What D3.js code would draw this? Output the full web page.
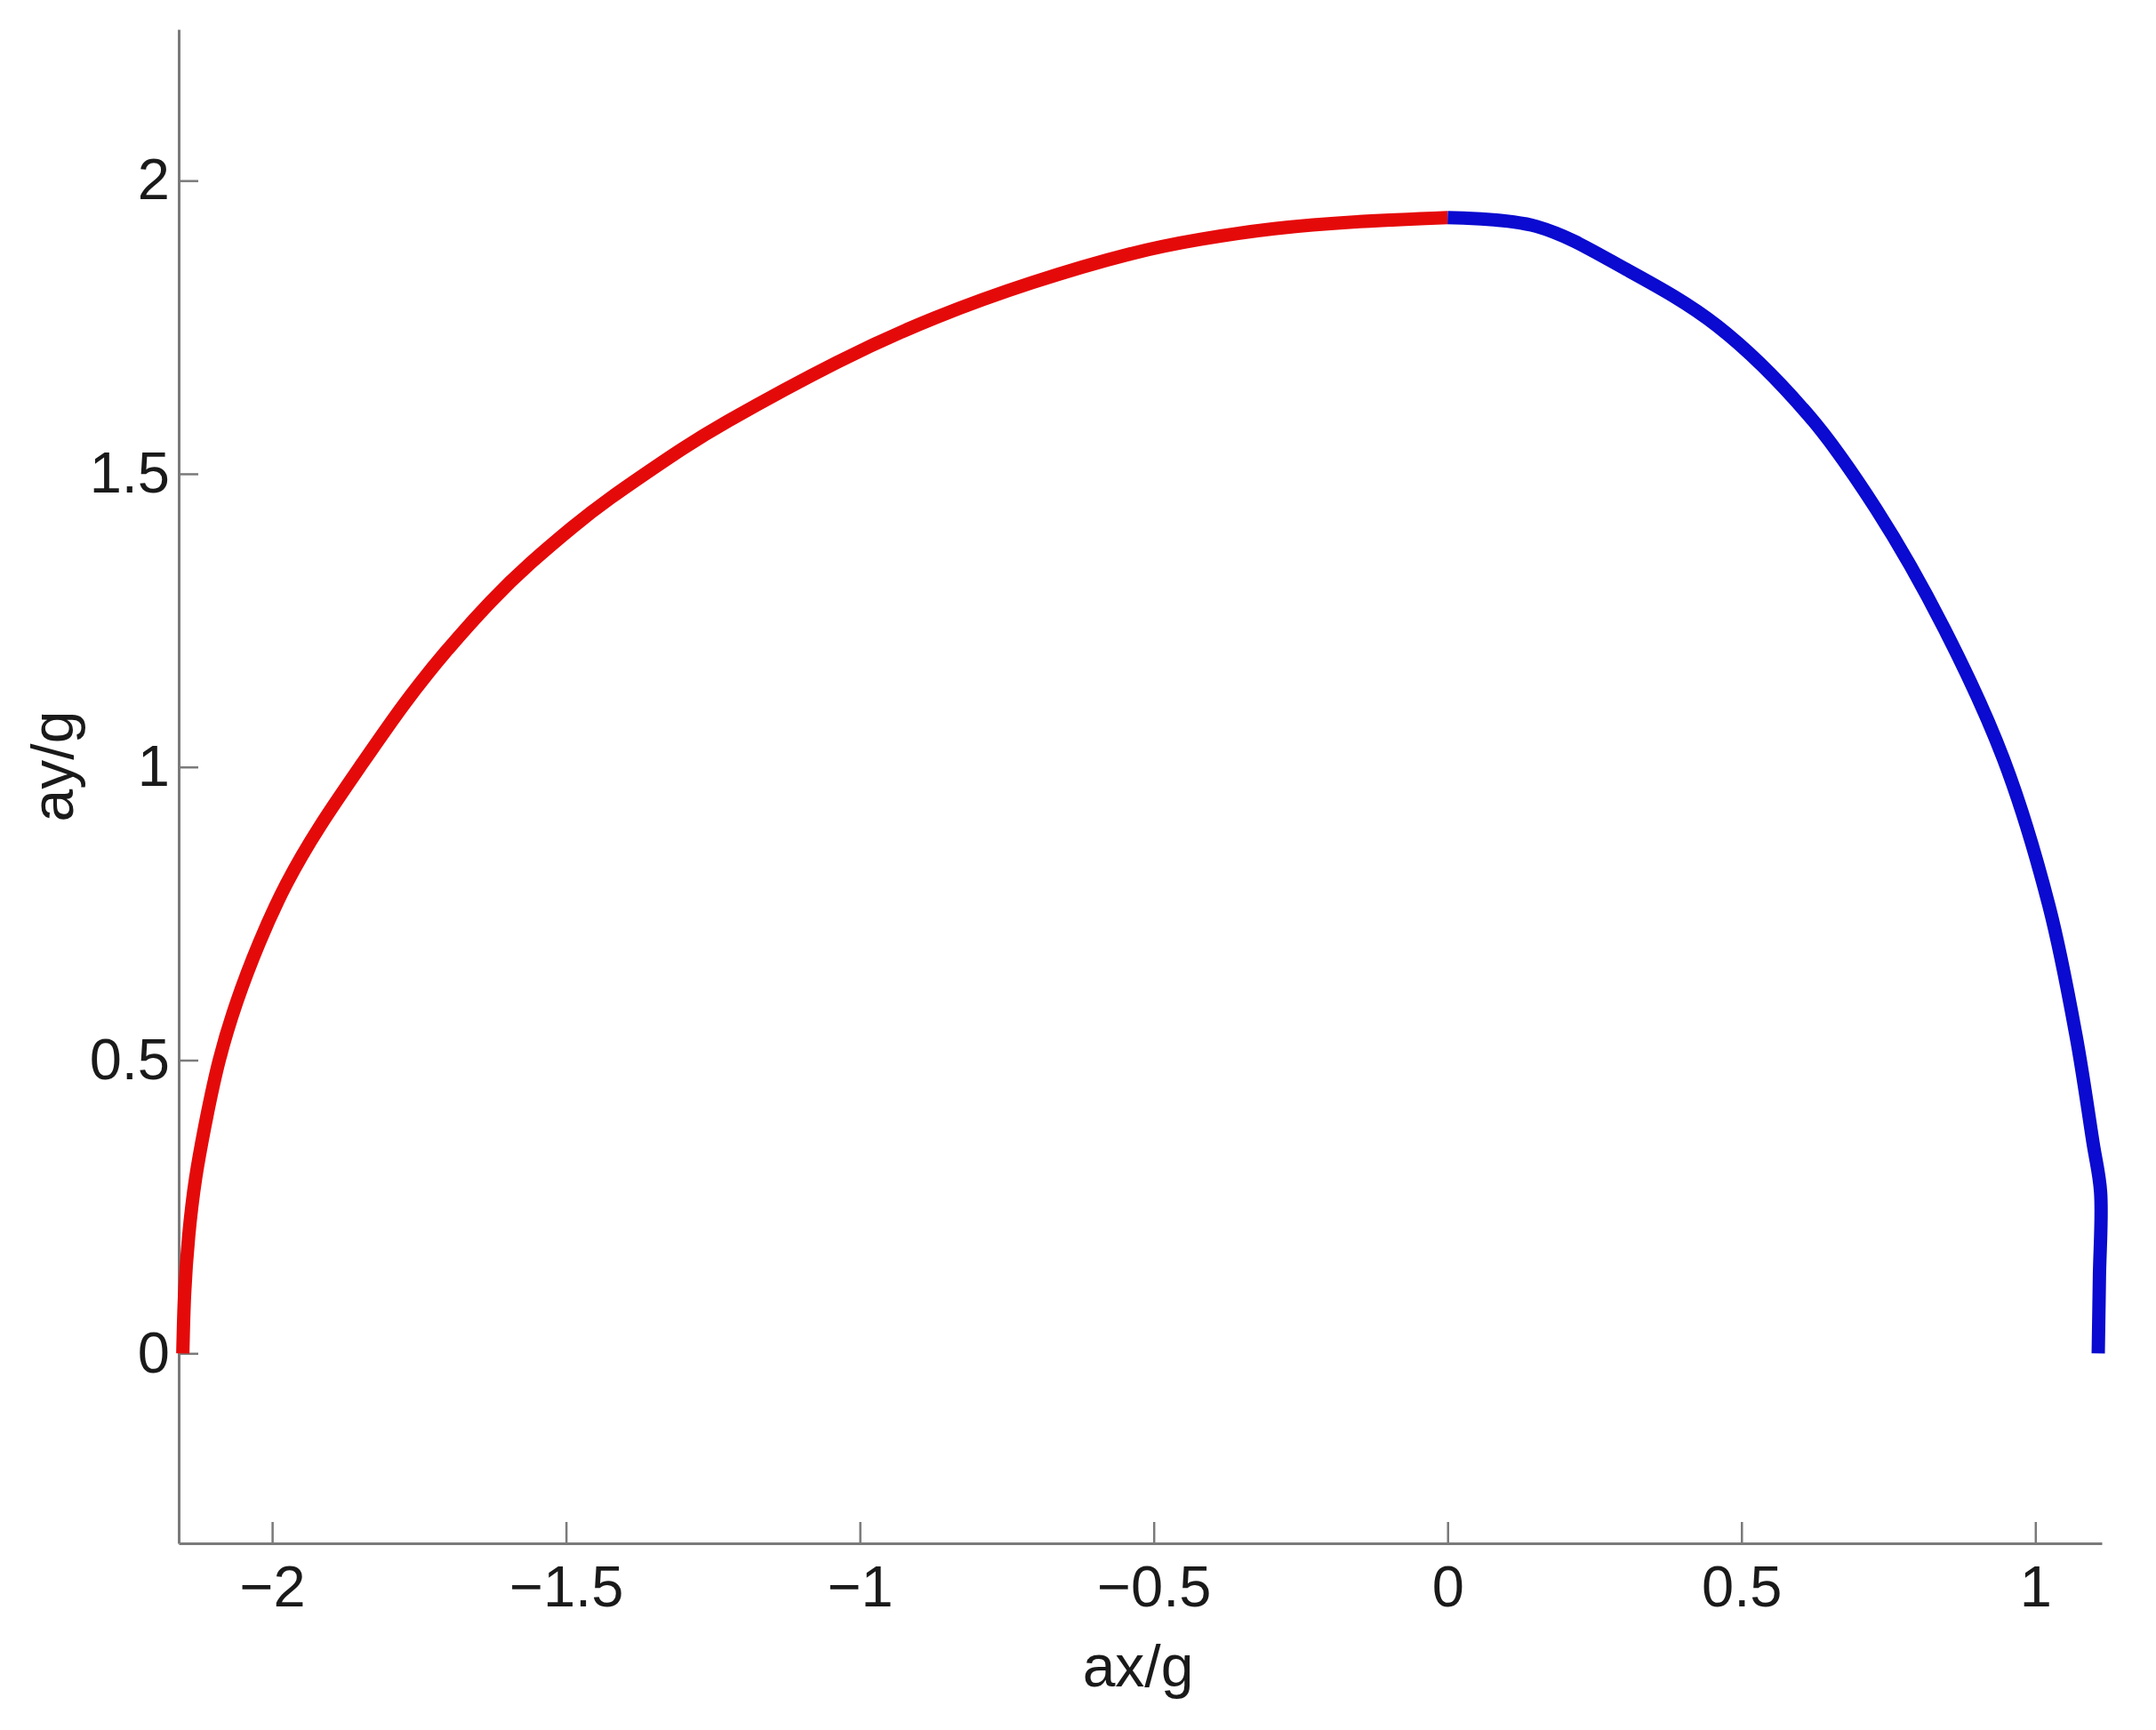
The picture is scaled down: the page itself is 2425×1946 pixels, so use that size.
<!DOCTYPE html>
<html>
<head>
<meta charset="utf-8">
<script src="https://cdn.jsdelivr.net/npm/d3@7"></script>
<style>
  html, body { margin: 0; padding: 0; background: #fff; }
  svg { display: block; }
  text { font-family: "Liberation Sans", Arial, sans-serif; }
</style>
</head>
<body>
<svg id="chart" width="2425" height="1946"></svg>
<script>
// ---- data ----
const redAx = [-2.152, -2.149, -2.142, -2.130, -2.112, -2.090, -2.060, -2.022, -1.976, -1.918, -1.848, -1.777, -1.705, -1.628, -1.560, -1.490, -1.424, -1.324, -1.224, -1.039, -0.872, -0.707, -0.540, -0.420, -0.295, -0.150, 0.000];
const redAy = [0.000, 0.100, 0.200, 0.300, 0.400, 0.500, 0.600, 0.700, 0.800, 0.900, 1.004, 1.105, 1.196, 1.282, 1.348, 1.408, 1.459, 1.528, 1.590, 1.690, 1.766, 1.826, 1.875, 1.900, 1.918, 1.930, 1.937];
const blueAx = [0.000, 0.151, 0.305, 0.459, 0.614, 0.729, 0.845, 0.946, 1.023, 1.069, 1.098, 1.111, 1.109, 1.107];
const blueAy = [1.937, 1.922, 1.848, 1.752, 1.600, 1.440, 1.236, 1.013, 0.764, 0.543, 0.360, 0.275, 0.130, 0.000];
const xTicks = [-2, -1.5, -1, -0.5, 0, 0.5, 1];
const yTicks = [0, 0.5, 1, 1.5, 2];
const xLabel = "ax/g";
const yLabel = "ay/g";

const svg = d3.select("#chart");
const x = d3.scaleLinear().domain([-2.159, 1.113]).range([201, 2364]);
const y = d3.scaleLinear().domain([-0.324, 2.258]).range([1736, 33]);

const fmt = v => (v < 0 ? "\u2212" : "") + String(Math.abs(v));

const xAxis = svg.append("g").attr("transform", `translate(0,${y.range()[0]})`)
  .call(d3.axisBottom(x).tickValues(xTicks).tickFormat(fmt).tickSizeInner(-24).tickSizeOuter(0).tickPadding(25));
const yAxis = svg.append("g").attr("transform", `translate(${x.range()[0]},0)`)
  .call(d3.axisLeft(y).tickValues(yTicks).tickFormat(fmt).tickSizeInner(-22).tickSizeOuter(0).tickPadding(10));

[xAxis, yAxis].forEach(g => {
  g.select(".domain").attr("stroke", "#7a7a7a").attr("stroke-width", 3);
  g.selectAll(".tick line").attr("stroke", "#7a7a7a").attr("stroke-width", 2.5);
  g.selectAll(".tick text").attr("fill", "#1a1a1a").style("font-size", "65px")
    .style("font-family", '"Liberation Sans", Arial, sans-serif');
});

const redLine = d3.line().x(d => x(d[0])).y(d => y(d[1])).curve(d3.curveNatural);
const blueLine = d3.line().x(d => x(d[0])).y(d => y(d[1])).curve(d3.curveCatmullRom.alpha(0.5));
const red = redAx.map((v, i) => [v, redAy[i]]);
const blue = blueAx.map((v, i) => [v, blueAy[i]]);

svg.append("path").datum(red).attr("d", redLine).attr("fill", "none")
  .attr("stroke", "#e50a0a").attr("stroke-width", 15).attr("stroke-linejoin", "round");
svg.append("path").datum(blue).attr("d", blueLine).attr("fill", "none")
  .attr("stroke", "#0a0ad0").attr("stroke-width", 15).attr("stroke-linejoin", "round");

svg.append("text").attr("x", 1280).attr("y", 1897).attr("text-anchor", "middle")
  .attr("fill", "#1a1a1a").style("font-size", "66px").text(xLabel);
svg.append("text").attr("transform", "translate(82,862) rotate(-90)").attr("text-anchor", "middle")
  .attr("fill", "#1a1a1a").style("font-size", "66px").text(yLabel);
</script>
</body>
</html>
